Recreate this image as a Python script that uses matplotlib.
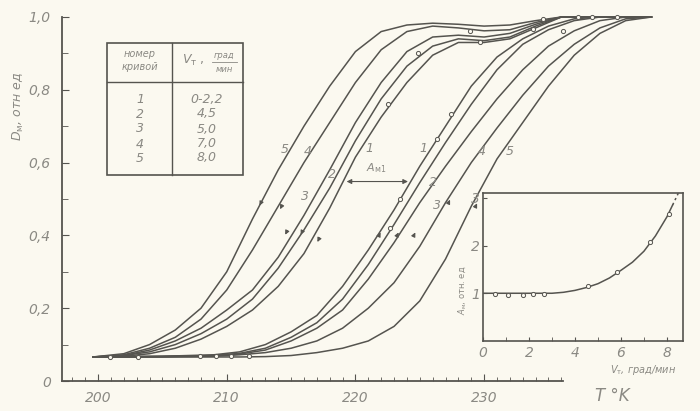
import matplotlib.pyplot as plt
from matplotlib.patches import Rectangle
from matplotlib.lines import Line2D
from matplotlib.ticker import MultipleLocator, FixedLocator

# Данные (T в K, D в отн. ед.)
# Левая группа - охлаждение
t_cool = [199.6, 202, 204, 206, 208, 210, 212, 214, 216, 218, 220, 222, 224, 226, 228, 230, 232, 234, 236, 243]
d_cool_1 = [0.066, 0.068, 0.075, 0.09, 0.115, 0.15, 0.195, 0.26, 0.35, 0.475, 0.615, 0.725, 0.82, 0.895, 0.93, 0.93, 0.94, 0.97, 1.0, 1.0]
d_cool_2 = [0.066, 0.07, 0.08, 0.10, 0.13, 0.17, 0.225, 0.31, 0.415, 0.53, 0.66, 0.775, 0.865, 0.92, 0.94, 0.935, 0.945, 0.975, 1.0, 1.0]
d_cool_3 = [0.066, 0.07, 0.085, 0.11, 0.145, 0.195, 0.25, 0.34, 0.455, 0.58, 0.71, 0.82, 0.905, 0.945, 0.95, 0.945, 0.955, 0.98, 1.0, 1.0]
d_cool_4 = [0.066, 0.072, 0.09, 0.12, 0.17, 0.25, 0.36, 0.48, 0.60, 0.71, 0.82, 0.91, 0.96, 0.975, 0.97, 0.962, 0.965, 0.985, 1.0, 1.0]
d_cool_5 = [0.066, 0.075, 0.10, 0.14, 0.20, 0.30, 0.445, 0.58, 0.70, 0.81, 0.905, 0.96, 0.978, 0.983, 0.98, 0.975, 0.978, 0.99, 1.0, 1.0]

# Правая группа - нагрев
t_heat = [199.6, 205, 209, 211, 213, 215, 217, 219, 221, 223, 225, 227, 229, 231, 233, 235, 237, 239, 241, 243]
d_heat_1 = [0.066, 0.068, 0.072, 0.08, 0.10, 0.135, 0.18, 0.26, 0.36, 0.47, 0.59, 0.70, 0.81, 0.89, 0.94, 0.975, 0.995, 1.0, 1.0, 1.0]
d_heat_2 = [0.066, 0.068, 0.07, 0.076, 0.09, 0.12, 0.16, 0.225, 0.32, 0.43, 0.545, 0.655, 0.76, 0.855, 0.925, 0.965, 0.99, 1.0, 1.0, 1.0]
d_heat_3 = [0.066, 0.067, 0.07, 0.074, 0.085, 0.11, 0.145, 0.195, 0.28, 0.38, 0.49, 0.59, 0.685, 0.775, 0.855, 0.92, 0.962, 0.99, 1.0, 1.0]
d_heat_4 = [0.066, 0.066, 0.068, 0.072, 0.078, 0.09, 0.11, 0.145, 0.20, 0.27, 0.37, 0.49, 0.60, 0.695, 0.785, 0.865, 0.925, 0.97, 0.995, 1.0]
d_heat_5 = [0.066, 0.066, 0.066, 0.066, 0.067, 0.07, 0.078, 0.09, 0.11, 0.15, 0.22, 0.335, 0.48, 0.61, 0.71, 0.81, 0.895, 0.955, 0.99, 1.0]

# экспериментальные точки (кружки)
pts_t = [200.9, 203.1, 207.9, 209.2, 210.3, 211.7, 222.7, 223.5, 226.3, 227.4, 222.5, 224.9,
         228.9, 229.7, 233.8, 234.6, 236.1, 237.3, 238.4, 240.3]
pts_d = [0.066, 0.066, 0.068, 0.068, 0.068, 0.07, 0.42, 0.50, 0.664, 0.733, 0.76, 0.90,
         0.961, 0.931, 0.967, 0.994, 0.961, 1.0, 1.0, 1.0]

# таблица
curve_nums = ["1", "2", "3", "4", "5"]
rates = ["0-2,2", "4,5", "5,0", "7,0", "8,0"]

# вставка: A_м от V_т
ins_v = [0.52, 1.1, 1.75, 2.16, 2.65, 4.58, 5.81, 7.26, 8.09]
ins_a = [0.985, 0.965, 0.97, 0.98, 0.98, 1.16, 1.44, 2.07, 2.66]
ins_line_v = [0, 1, 2, 3, 3.5, 4, 4.5, 5, 5.5, 6, 6.5, 7, 7.5, 8, 8.25]
ins_line_a = [1.0, 1.0, 1.0, 1.0, 1.02, 1.06, 1.12, 1.2, 1.32, 1.48, 1.65, 1.88, 2.2, 2.6, 2.85]
ins_dash_v = [8.25, 8.5]
ins_dash_a = [2.85, 3.1]

BG = "#fbf9f0"
LC = "#55544f"
TC = "#8a8983"
W, H = 700, 411


def fxy(x, y):
    return x / W, 1 - y / H


fig = plt.figure(figsize=(7, 4.11), dpi=100, facecolor=BG)
ax = fig.add_axes([62 / W, 30 / H, 621.6 / W, 364 / H])
ax.set_facecolor(BG)

for d in [d_cool_1, d_cool_2, d_cool_3, d_cool_4, d_cool_5]:
    ax.plot(t_cool, d, color=LC, lw=1.1, clip_on=False)
for d in [d_heat_1, d_heat_2, d_heat_3, d_heat_4, d_heat_5]:
    ax.plot(t_heat, d, color=LC, lw=1.1, clip_on=False)
ax.plot(pts_t, pts_d, "o", ms=3, mfc=BG, mec=LC, mew=0.7, clip_on=False)

ax.set_xlim(197.2, 245.5)
ax.set_ylim(0, 1.0)
for s in ["top", "right"]:
    ax.spines[s].set_visible(False)
ax.spines["bottom"].set_bounds(197.2, 236.1)
for s in ["left", "bottom"]:
    ax.spines[s].set_color(LC)
    ax.spines[s].set_linewidth(1.3)

ax.xaxis.set_major_locator(FixedLocator([200, 210, 220, 230]))
ax.xaxis.set_minor_locator(FixedLocator(list(range(198, 237))))
ax.set_xticklabels(["200", "210", "220", "230"])
ax.yaxis.set_major_locator(FixedLocator([0, 0.2, 0.4, 0.6, 0.8, 1.0]))
ax.yaxis.set_minor_locator(MultipleLocator(0.1))
ax.set_yticklabels(["0", "0,2", "0,4", "0,6", "0,8", "1,0"])
ax.tick_params(which="both", direction="in", color=LC, labelcolor=TC, labelsize=10)
ax.tick_params(axis="x", which="major", length=5, pad=7)
ax.tick_params(axis="x", which="minor", length=3)
ax.tick_params(axis="y", which="major", length=5, pad=8)
ax.tick_params(axis="y", which="minor", length=4)
for lab in ax.get_xticklabels() + ax.get_yticklabels():
    lab.set_style("italic")

fig.text(*fxy(18, 106), r"$D_{\mathrm{м}}$, отн ед", rotation=90, ha="center", va="center",
         color=TC, fontsize=9, style="italic")
fig.text(*fxy(612, 396), "T °K", ha="center", va="center", color=TC, fontsize=12, style="italic")

# подписи кривых
curve_labels = [("5", 214.5, 0.636), ("4", 216.3, 0.631), ("1", 221.1, 0.639), ("2", 218.2, 0.567),
                ("3", 216.1, 0.507), ("1", 225.3, 0.639), ("2", 226.0, 0.545), ("3", 226.3, 0.482),
                ("4", 229.8, 0.631), ("5", 232.0, 0.631)]
for txt, t, d in curve_labels:
    ax.text(t, d, txt, color=TC, fontsize=9, style="italic", ha="center", va="center")

# стрелки направления
for t, d in [(212.8, 0.50), (214.4, 0.49), (214.8, 0.42), (216.0, 0.42), (217.3, 0.40)]:
    ax.annotate("", xy=(t - 0.35, d - 0.025), xytext=(t, d),
                arrowprops=dict(arrowstyle="-|>", color=LC, lw=0.8, mutation_scale=6))
for t, d in [(221.7, 0.39), (223.1, 0.39), (224.4, 0.39), (227.1, 0.48), (229.2, 0.47)]:
    ax.annotate("", xy=(t + 0.35, d + 0.025), xytext=(t, d),
                arrowprops=dict(arrowstyle="-|>", color=LC, lw=0.8, mutation_scale=6))

# A_м1
ax.annotate("", xy=(219.1, 0.548), xytext=(224.3, 0.548),
            arrowprops=dict(arrowstyle="<|-|>", color=LC, lw=0.8, mutation_scale=7))
ax.text(221.6, 0.565, r"$A_{\mathrm{м1}}$", color=TC, fontsize=8, ha="center", va="bottom")

# таблица
fig.add_artist(Rectangle(fxy(107, 175), 136 / W, 132 / H, fill=False, ec=LC, lw=1.2,
                         transform=fig.transFigure))
fig.add_artist(Line2D([107 / W, 243 / W], [1 - 82 / H] * 2, color=LC, lw=1.0,
                      transform=fig.transFigure))
fig.add_artist(Line2D([172 / W] * 2, [1 - 43 / H, 1 - 175 / H], color=LC, lw=1.0,
                      transform=fig.transFigure))
fig.text(*fxy(140, 54), "номер", ha="center", va="center", color=TC, fontsize=7, style="italic")
fig.text(*fxy(140, 67), "кривой", ha="center", va="center", color=TC, fontsize=7, style="italic")
fig.text(*fxy(193, 60), r"$V_{\mathrm{т}}$ ,", ha="center", va="center", color=TC, fontsize=9)
fig.text(*fxy(224, 55), "град", ha="center", va="center", color=TC, fontsize=6, style="italic")
fig.add_artist(Line2D([212 / W, 237 / W], [1 - 62 / H] * 2, color=TC, lw=0.6,
                      transform=fig.transFigure))
fig.text(*fxy(224, 69), "мин", ha="center", va="center", color=TC, fontsize=6, style="italic")
row_y = [99, 114, 129, 144, 158]
for n, r, y in zip(curve_nums, rates, row_y):
    fig.text(*fxy(140, y), n, ha="center", va="center", color=TC, fontsize=9, style="italic")
    fig.text(*fxy(207, y), r, ha="center", va="center", color=TC, fontsize=9, style="italic")

# вставка
ins = fig.add_axes([483 / W, 70 / H, 200 / W, 148 / H])
ins.set_facecolor(BG)
ins.plot(ins_line_v, ins_line_a, color=LC, lw=1.1)
ins.plot(ins_dash_v, ins_dash_a, color=LC, lw=1.1, ls=(0, (1.5, 2)))
ins.plot(ins_v, ins_a, "o", ms=3, mfc=BG, mec=LC, mew=0.7)
ins.set_xlim(0, 8.7)
ins.set_ylim(0, 3.1)
for s in ins.spines.values():
    s.set_color(LC)
    s.set_linewidth(1.2)
ins.xaxis.set_major_locator(MultipleLocator(2))
ins.xaxis.set_minor_locator(MultipleLocator(1))
ins.yaxis.set_major_locator(FixedLocator([1, 2, 3]))
ins.tick_params(which="both", direction="in", color=LC, labelcolor=TC, labelsize=10, length=3)
ins.tick_params(axis="y", pad=2)
for lab in ins.get_xticklabels() + ins.get_yticklabels():
    lab.set_style("italic")
fig.text(*fxy(462, 290), r"$A_{\mathrm{м}}$, отн. ед", rotation=90, ha="center", va="center",
         color=TC, fontsize=6)
fig.text(*fxy(643, 370), r"$V_{\mathrm{т}}$, град/мин", ha="center", va="center", color=TC,
         fontsize=7, style="italic")

fig.savefig("out.png", dpi=100, facecolor=BG)
